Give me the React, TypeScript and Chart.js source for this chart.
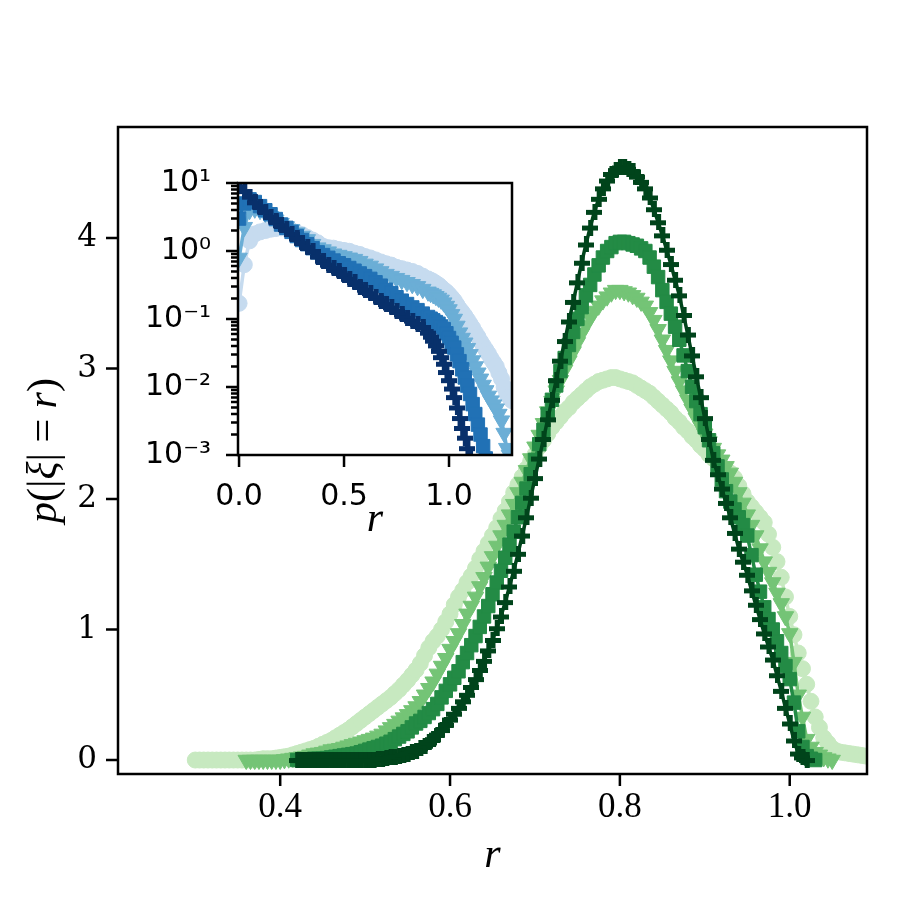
import React, { useEffect, useRef } from "react";
import { Chart, registerables } from "chart.js";

Chart.register(...registerables);

// ---------------- main panel data (r from 0.300 to 1.090, step 0.005) ----------------
const rValues = [
  0.300, 0.305, 0.310, 0.315, 0.320, 0.325, 0.330, 0.335, 0.340, 0.345,
  0.350, 0.355, 0.360, 0.365, 0.370, 0.375, 0.380, 0.385, 0.390, 0.395,
  0.400, 0.405, 0.410, 0.415, 0.420, 0.425, 0.430, 0.435, 0.440, 0.445,
  0.450, 0.455, 0.460, 0.465, 0.470, 0.475, 0.480, 0.485, 0.490, 0.495,
  0.500, 0.505, 0.510, 0.515, 0.520, 0.525, 0.530, 0.535, 0.540, 0.545,
  0.550, 0.555, 0.560, 0.565, 0.570, 0.575, 0.580, 0.585, 0.590, 0.595,
  0.600, 0.605, 0.610, 0.615, 0.620, 0.625, 0.630, 0.635, 0.640, 0.645,
  0.650, 0.655, 0.660, 0.665, 0.670, 0.675, 0.680, 0.685, 0.690, 0.695,
  0.700, 0.705, 0.710, 0.715, 0.720, 0.725, 0.730, 0.735, 0.740, 0.745,
  0.750, 0.755, 0.760, 0.765, 0.770, 0.775, 0.780, 0.785, 0.790, 0.795,
  0.800, 0.805, 0.810, 0.815, 0.820, 0.825, 0.830, 0.835, 0.840, 0.845,
  0.850, 0.855, 0.860, 0.865, 0.870, 0.875, 0.880, 0.885, 0.890, 0.895,
  0.900, 0.905, 0.910, 0.915, 0.920, 0.925, 0.930, 0.935, 0.940, 0.945,
  0.950, 0.955, 0.960, 0.965, 0.970, 0.975, 0.980, 0.985, 0.990, 0.995,
  1.000, 1.005, 1.010, 1.015, 1.020, 1.025, 1.030, 1.035, 1.040, 1.045,
  1.050, 1.055, 1.060, 1.065, 1.070, 1.075, 1.080, 1.085, 1.090,
];

const pCircle = [
  0, 0, 0, 0, 0, 0, 0, 0, 0, 0,
  0, 0, 0, 0, 0, 0.005, 0.01, 0.01, 0.01, 0.015,
  0.02, 0.025, 0.03, 0.04, 0.05, 0.06, 0.07, 0.08, 0.09, 0.105,
  0.12, 0.135, 0.15, 0.17, 0.19, 0.21, 0.23, 0.255, 0.28, 0.305,
  0.33, 0.355, 0.38, 0.405, 0.43, 0.455, 0.48, 0.51, 0.54, 0.575,
  0.61, 0.65, 0.69, 0.74, 0.8, 0.86, 0.91, 0.95, 1.0, 1.06,
  1.12, 1.19, 1.25, 1.3, 1.36, 1.41, 1.47, 1.54, 1.6, 1.66,
  1.72, 1.78, 1.85, 1.91, 1.98, 2.05, 2.11, 2.17, 2.23, 2.29,
  2.34, 2.4, 2.45, 2.5, 2.55, 2.59, 2.63, 2.67, 2.7, 2.74,
  2.77, 2.8, 2.83, 2.86, 2.88, 2.9, 2.91, 2.92, 2.93, 2.93,
  2.92, 2.91, 2.9, 2.89, 2.87, 2.85, 2.83, 2.81, 2.78, 2.75,
  2.72, 2.69, 2.66, 2.62, 2.59, 2.55, 2.52, 2.48, 2.45, 2.41,
  2.38, 2.34, 2.31, 2.28, 2.25, 2.22, 2.2, 2.16, 2.1, 2.04,
  1.98, 1.94, 1.9, 1.86, 1.82, 1.73, 1.63, 1.52, 1.4, 1.25,
  1.1, 0.96, 0.82, 0.7, 0.58, 0.45, 0.33, 0.25, 0.17, 0.13,
  0.09, 0.07, 0.06, 0.055, 0.05, 0.045, 0.04, 0.035, 0.03,
];

const pTriangle = [
  null, null, null, null, null, null, null, null, null, null,
  null, null, 0, 0, 0, 0, 0, 0, 0, 0,
  0, 0.005, 0.01, 0.015, 0.02, 0.025, 0.03, 0.04, 0.05, 0.055,
  0.06, 0.07, 0.08, 0.085, 0.09, 0.1, 0.11, 0.12, 0.13, 0.14,
  0.15, 0.16, 0.17, 0.185, 0.2, 0.225, 0.25, 0.275, 0.3, 0.325,
  0.35, 0.38, 0.41, 0.45, 0.5, 0.55, 0.6, 0.66, 0.72, 0.78,
  0.85, 0.91, 0.97, 1.04, 1.12, 1.18, 1.25, 1.33, 1.4, 1.48,
  1.56, 1.64, 1.72, 1.8, 1.88, 1.96, 2.05, 2.13, 2.22, 2.31,
  2.4, 2.49, 2.58, 2.67, 2.75, 2.83, 2.91, 2.99, 3.06, 3.13,
  3.2, 3.27, 3.33, 3.39, 3.44, 3.48, 3.52, 3.55, 3.58, 3.6,
  3.6, 3.59, 3.58, 3.56, 3.54, 3.51, 3.48, 3.43, 3.37, 3.3,
  3.22, 3.14, 3.06, 2.98, 2.9, 2.83, 2.76, 2.69, 2.62, 2.56,
  2.5, 2.44, 2.39, 2.34, 2.3, 2.25, 2.2, 2.13, 2.05, 1.97,
  1.88, 1.8, 1.72, 1.62, 1.52, 1.44, 1.36, 1.28, 1.2, 1.1,
  0.97, 0.75, 0.5, 0.33, 0.16, 0.1, 0.06, 0.04, 0.02, 0.01,
  0, null, null, null, null, null, null, null, null,
];

const pSquare = [
  null, null, null, null, null, null, null, null, null, null,
  null, null, null, null, null, null, null, null, null, null,
  null, null, null, null, 0, 0, 0, 0.005, 0.01, 0.01,
  0.01, 0.015, 0.02, 0.025, 0.03, 0.035, 0.04, 0.045, 0.05, 0.06,
  0.07, 0.08, 0.09, 0.1, 0.11, 0.125, 0.14, 0.16, 0.18, 0.2,
  0.22, 0.25, 0.28, 0.3, 0.33, 0.36, 0.39, 0.43, 0.48, 0.53,
  0.58, 0.63, 0.68, 0.75, 0.82, 0.88, 0.95, 1.02, 1.1, 1.18,
  1.27, 1.36, 1.45, 1.55, 1.65, 1.75, 1.86, 1.97, 2.08, 2.19,
  2.3, 2.42, 2.53, 2.65, 2.76, 2.87, 2.98, 3.08, 3.18, 3.28,
  3.38, 3.47, 3.56, 3.64, 3.72, 3.79, 3.85, 3.9, 3.93, 3.96,
  3.97, 3.97, 3.96, 3.95, 3.94, 3.92, 3.9, 3.85, 3.78, 3.7,
  3.6, 3.51, 3.42, 3.32, 3.22, 3.1, 2.98, 2.86, 2.75, 2.65,
  2.55, 2.45, 2.35, 2.25, 2.15, 2.06, 1.98, 1.92, 1.86, 1.8,
  1.72, 1.57, 1.42, 1.29, 1.17, 1.08, 1.0, 0.91, 0.82, 0.72,
  0.62, 0.44, 0.22, 0.1, 0.03, 0.01, 0, null, null, null,
  null, null, null, null, null, null, null, null, null,
];

const pPlus = [
  null, null, null, null, null, null, null, null, null, null,
  null, null, null, null, null, null, null, null, null, null,
  null, null, null, null, 0, 0, 0, 0, 0, 0,
  0, 0, 0, 0, 0, 0, 0, 0, 0, 0,
  0, 0, 0, 0.005, 0.01, 0.015, 0.02, 0.025, 0.03, 0.04,
  0.05, 0.06, 0.07, 0.09, 0.11, 0.135, 0.16, 0.195, 0.23, 0.27,
  0.31, 0.355, 0.4, 0.45, 0.5, 0.56, 0.62, 0.69, 0.76, 0.84,
  0.92, 1.01, 1.1, 1.21, 1.33, 1.45, 1.58, 1.72, 1.86, 2.01,
  2.16, 2.31, 2.46, 2.61, 2.76, 2.91, 3.06, 3.21, 3.36, 3.51,
  3.66, 3.81, 3.95, 4.08, 4.2, 4.3, 4.38, 4.44, 4.49, 4.52,
  4.54, 4.54, 4.53, 4.51, 4.47, 4.43, 4.38, 4.31, 4.22, 4.12,
  4.02, 3.91, 3.8, 3.68, 3.56, 3.41, 3.26, 3.1, 2.94, 2.78,
  2.62, 2.46, 2.3, 2.19, 2.08, 1.97, 1.86, 1.74, 1.62, 1.52,
  1.42, 1.3, 1.19, 1.08, 0.97, 0.87, 0.77, 0.65, 0.53, 0.4,
  0.28, 0.15, 0.05, 0.02, 0, null, null, null, null, null,
  null, null, null, null, null, null, null, null, null,
];

const xTicks = [0.4, 0.6, 0.8, 1.0];
const xTickLabels = ["0.4", "0.6", "0.8", "1.0"];
const yTicks = [0, 1, 2, 3, 4];
const yTickLabels = ["0", "1", "2", "3", "4"];

// ---------------- inset data (read more finely on the steep tail) ----------------
const insetR = [
  0, 0.025, 0.05, 0.075, 0.1, 0.125, 0.15, 0.175, 0.2, 0.225,
  0.25, 0.275, 0.3, 0.325, 0.35, 0.375, 0.4, 0.425, 0.45, 0.475,
  0.5, 0.525, 0.55, 0.575, 0.6, 0.625, 0.65, 0.675, 0.7, 0.725,
  0.75, 0.775, 0.8, 0.825, 0.85, 0.875,
  0.9, 0.9125, 0.925, 0.9375, 0.95, 0.9625, 0.975, 0.9875, 1.0, 1.0125,
  1.025, 1.0375, 1.05, 1.0625, 1.075, 1.0875, 1.1, 1.1125, 1.125, 1.1375,
  1.15, 1.1625, 1.175, 1.1875, 1.2, 1.2125, 1.225, 1.2375, 1.25, 1.2625,
  1.275, 1.2875, 1.3,
];

const qCircle = [
  0.17, 0.63, 1.41, 1.78, 1.91, 2.0, 2.09, 2.14, 2.19, 2.14,
  2.0, 1.86, 1.74, 1.58, 1.45, 1.32, 1.17, 1.12, 1.1, 1.05,
  1.02, 0.99, 0.93, 0.89, 0.83, 0.79, 0.74, 0.69, 0.65, 0.62,
  0.575, 0.55, 0.525, 0.5, 0.468, 0.427,
  0.389, 0.372, 0.355, 0.335, 0.316, 0.292, 0.269, 0.251, 0.229, 0.207,
  0.186, 0.162, 0.141, 0.126, 0.112, 0.0977, 0.0851, 0.0741, 0.0631, 0.055,
  0.0468, 0.0407, 0.0355, 0.0309, 0.0263, 0.0229, 0.02, 0.0162, 0.0132, 0.01,
  0.0079, 0.0071, 0.0063,
];

const qTriangle = [
  0.79, 2.24, 3.98, 4.17, 3.98, 3.63, 3.24, 2.88, 2.57, 2.29,
  2.09, 1.86, 1.66, 1.48, 1.26, 1.12, 1.05, 0.977, 0.912, 0.871,
  0.832, 0.794, 0.759, 0.708, 0.646, 0.603, 0.55, 0.501, 0.457, 0.427,
  0.398, 0.372, 0.347, 0.324, 0.302, 0.275,
  0.251, 0.24, 0.229, 0.216, 0.204, 0.191, 0.174, 0.155, 0.138, 0.117,
  0.1, 0.079, 0.063, 0.0525, 0.0447, 0.0372, 0.0302, 0.0245, 0.02, 0.0162,
  0.0132, 0.0107, 0.0089, 0.0074, 0.0063, 0.0055, 0.0048, 0.004, 0.0032, 0.0021,
  0.00126, 0.001, 0.00079,
];

const qSquare = [
  3.0, 5.0, 5.75, 5.25, 4.57, 3.98, 3.47, 2.95, 2.45, 2.19,
  1.91, 1.66, 1.45, 1.26, 1.1, 0.955, 0.871, 0.794, 0.724, 0.661,
  0.617, 0.562, 0.513, 0.468, 0.427, 0.389, 0.347, 0.309, 0.269, 0.24,
  0.209, 0.186, 0.166, 0.148, 0.135, 0.12,
  0.107, 0.101, 0.0955, 0.09, 0.0851, 0.0776, 0.0708, 0.0617, 0.0525, 0.0447,
  0.038, 0.0302, 0.024, 0.0182, 0.0138, 0.0105, 0.0079, 0.0056, 0.004, 0.0028,
  0.002, 0.00135, 0.00089, null, null, null, null, null, null, null,
  null, null, null,
];

const qPlus = [
  8.9, 7.6, 6.3, 5.2, 4.5, 3.8, 3.2, 2.8, 2.4, 2.1,
  1.78, 1.55, 1.32, 1.15, 1.0, 0.83, 0.72, 0.63, 0.56, 0.5,
  0.45, 0.39, 0.35, 0.3, 0.27, 0.24, 0.21, 0.186, 0.166, 0.148,
  0.132, 0.117, 0.105, 0.095, 0.085, 0.076,
  0.063, 0.055, 0.048, 0.041, 0.034, 0.0275, 0.022, 0.0166, 0.0126, 0.0095,
  0.0071, 0.005, 0.0035, 0.0025, 0.0018, 0.00126, 0.00089, null, null, null,
  null, null, null, null, null, null, null, null, null, null,
  null, null, null,
];

const insetXTicks = [0, 0.5, 1.0];
const insetXTickLabels = ["0.0", "0.5", "1.0"];
const insetYMajor = [0.001, 0.01, 0.1, 1, 10];
const insetYMajorLabels = ["10\u207B\u00B3", "10\u207B\u00B2", "10\u207B\u00B9", "10\u2070", "10\u00B9"];
const insetYMinorDigits = [2, 3, 4, 5, 6, 7, 8, 9];

const greens = ["#c7e9c0", "#74c476", "#238b45", "#00441b"];
const blues = ["#c6dbef", "#6baed6", "#2171b5", "#08306b"];

// ---------------- helpers ----------------
function pts(xs: number[], ys: (number | null)[]) {
  const out: { x: number; y: number }[] = [];
  xs.forEach((x, i) => {
    const y = ys[i];
    if (y !== null && y !== undefined) out.push({ x, y });
  });
  return out;
}

function plusImage(color: string, size: number) {
  const c = document.createElement("canvas");
  c.width = size;
  c.height = size;
  const g = c.getContext("2d")!;
  g.fillStyle = color;
  const t = Math.round(size / 3);
  const o = Math.round((size - t) / 2);
  g.fillRect(o, 0, t, size);
  g.fillRect(0, o, size, t);
  return c;
}

function ds(xs: number[], ys: (number | null)[], color: string, style: any, radius: number, order: number, rotation = 0) {
  return {
    data: pts(xs, ys),
    borderColor: color,
    backgroundColor: color,
    borderWidth: 3.5,
    pointStyle: style,
    pointRadius: radius,
    pointRotation: rotation,
    pointBorderColor: color,
    pointBackgroundColor: color,
    pointBorderWidth: 1,
    tension: 0,
    order,
    clip: 0,
    fill: false,
  };
}

function zeroPad(s: any) {
  s.paddingTop = 0;
  s.paddingBottom = 0;
  s.paddingLeft = 0;
  s.paddingRight = 0;
}

type Part = { t: string; i: boolean };
type Title = { parts: Part[]; x: number; y: number; rot: boolean; size: number; family: string };
type FrameCfg = {
  fill: boolean;
  spine: number;
  tickW: number;
  major: number;
  minor: number;
  yMajor: number[] | null;
  titles: Title[];
};

function makeFrame(cfg: FrameCfg) {
  return {
    id: "frame",
    beforeDraw(chart: any) {
      if (!cfg.fill) return;
      const { ctx, chartArea: a } = chart;
      ctx.save();
      ctx.fillStyle = "#ffffff";
      ctx.fillRect(a.left, a.top, a.right - a.left, a.bottom - a.top);
      ctx.restore();
    },
    afterDraw(chart: any) {
      const { ctx, chartArea: a } = chart;
      const xs = chart.scales.x;
      const ys = chart.scales.y;
      ctx.save();
      ctx.strokeStyle = "#000";
      ctx.lineCap = "butt";
      ctx.lineWidth = cfg.tickW;
      ctx.beginPath();
      for (const t of xs.ticks) {
        const p = xs.getPixelForValue(t.value);
        ctx.moveTo(p, a.bottom);
        ctx.lineTo(p, a.bottom + cfg.major);
      }
      for (const t of ys.ticks) {
        const p = ys.getPixelForValue(t.value);
        const isMajor = cfg.yMajor ? cfg.yMajor.some((m) => Math.abs(m - t.value) / m < 1e-6) : true;
        const len = isMajor ? cfg.major : cfg.minor;
        ctx.moveTo(a.left, p);
        ctx.lineTo(a.left - len, p);
      }
      ctx.stroke();
      ctx.lineWidth = cfg.spine;
      ctx.strokeRect(a.left, a.top, a.right - a.left, a.bottom - a.top);

      for (const ti of cfg.titles) {
        ctx.save();
        ctx.translate(ti.x, ti.y);
        if (ti.rot) ctx.rotate(-Math.PI / 2);
        ctx.textBaseline = "alphabetic";
        ctx.textAlign = "left";
        ctx.fillStyle = "#000";
        const fonts = ti.parts.map((p) => `${p.i ? "italic " : ""}${ti.size}px ${ti.family}`);
        let w = 0;
        const ws = ti.parts.map((p, k) => {
          ctx.font = fonts[k];
          const m = ctx.measureText(p.t).width;
          w += m;
          return m;
        });
        let x = -w / 2;
        ti.parts.forEach((p, k) => {
          ctx.font = fonts[k];
          ctx.fillText(p.t, x, 0);
          x += ws[k];
        });
        ctx.restore();
      }
      ctx.restore();
    },
  };
}

const MAIN_W = 913;
const MAIN_H = 913;
const INSET_LEFT = 120;
const INSET_TOP = 150;
const INSET_W = 410;
const INSET_H = 400;
const TITLE_FONT = "'Liberation Serif'";

export default function App() {
  const mainRef = useRef<HTMLCanvasElement>(null);
  const insetRef = useRef<HTMLCanvasElement>(null);

  useEffect(() => {
    const plusGreen = plusImage(greens[3], 16);
    const plusBlue = plusImage(blues[3], 16);

    const main = new Chart(mainRef.current!, {
      type: "line",
      data: {
        datasets: [
          ds(rValues, pPlus, greens[3], plusGreen, 8, 0),
          ds(rValues, pSquare, greens[2], "rect", 9.5, 1),
          ds(rValues, pTriangle, greens[1], "triangle", 9.5, 2, 180),
          ds(rValues, pCircle, greens[0], "circle", 8, 3),
        ] as any,
      },
      options: {
        animation: false,
        responsive: false,
        events: [],
        layout: { padding: { left: 0, top: 127, right: 46, bottom: 0 } },
        plugins: { legend: { display: false }, tooltip: { enabled: false } },
        scales: {
          x: {
            type: "linear",
            min: 0.209,
            max: 1.091,
            grid: { display: false, drawTicks: false },
            border: { display: false },
            afterBuildTicks: (s: any) => {
              s.ticks = xTicks.map((v) => ({ value: v }));
            },
            afterFit: (s: any) => {
              s.height = 139;
              zeroPad(s);
            },
            ticks: {
              autoSkip: false,
              maxRotation: 0,
              minRotation: 0,
              padding: 13,
              color: "#000",
              font: { family: "'Liberation Serif'", size: 35 },
              callback: (v: any) => xTickLabels[xTicks.indexOf(Number(v))],
            },
          },
          y: {
            type: "linear",
            min: -0.107,
            max: 4.85,
            grid: { display: false, drawTicks: false },
            border: { display: false },
            afterBuildTicks: (s: any) => {
              s.ticks = yTicks.map((v) => ({ value: v }));
            },
            afterFit: (s: any) => {
              s.width = 118;
              zeroPad(s);
            },
            ticks: {
              autoSkip: false,
              padding: 21,
              color: "#000",
              font: { family: "'DejaVu Serif'", size: 31 },
              callback: (v: any) => yTickLabels[yTicks.indexOf(Number(v))],
            },
          },
        },
      } as any,
      plugins: [
        makeFrame({
          fill: false,
          spine: 2.5,
          tickW: 2.5,
          major: 12,
          minor: 7,
          yMajor: null,
          titles: [
            { parts: [{ t: "r", i: true }], x: 492.5, y: 867, rot: false, size: 42, family: TITLE_FONT },
            {
              parts: [
                { t: "p", i: true },
                { t: "(|", i: false },
                { t: "\u03BE", i: true },
                { t: "| = ", i: false },
                { t: "r", i: true },
                { t: ")", i: false },
              ],
              x: 56,
              y: 450.5,
              rot: true,
              size: 42,
              family: TITLE_FONT,
            },
          ],
        }),
      ],
    });

    const insetTicks: number[] = [];
    insetYMajor.forEach((m, k) => {
      insetTicks.push(m);
      if (k < insetYMajor.length - 1) insetYMinorDigits.forEach((d) => insetTicks.push(d * m));
    });

    const inset = new Chart(insetRef.current!, {
      type: "line",
      data: {
        datasets: [
          ds(insetR, qPlus, blues[3], plusBlue, 8, 0),
          ds(insetR, qSquare, blues[2], "rect", 9.5, 1),
          ds(insetR, qTriangle, blues[1], "triangle", 9.5, 2, 180),
          ds(insetR, qCircle, blues[0], "circle", 8, 3),
        ] as any,
      },
      options: {
        animation: false,
        responsive: false,
        events: [],
        layout: { padding: { left: 0, top: 33, right: 18, bottom: 0 } },
        plugins: { legend: { display: false }, tooltip: { enabled: false } },
        scales: {
          x: {
            type: "linear",
            min: -0.005,
            max: 1.3,
            grid: { display: false, drawTicks: false },
            border: { display: false },
            afterBuildTicks: (s: any) => {
              s.ticks = insetXTicks.map((v) => ({ value: v }));
            },
            afterFit: (s: any) => {
              s.height = 95;
              zeroPad(s);
            },
            ticks: {
              autoSkip: false,
              maxRotation: 0,
              minRotation: 0,
              padding: 24,
              color: "#000",
              font: { family: "'DejaVu Sans'", size: 30 },
              callback: (v: any) => insetXTickLabels[insetXTicks.indexOf(Number(v))],
            },
          },
          y: {
            type: "logarithmic",
            min: 0.001,
            max: 10,
            grid: { display: false, drawTicks: false },
            border: { display: false },
            afterBuildTicks: (s: any) => {
              s.ticks = insetTicks.map((v) => ({ value: v }));
            },
            afterFit: (s: any) => {
              s.width = 118;
              zeroPad(s);
            },
            ticks: {
              autoSkip: false,
              padding: 27,
              color: "#000",
              font: { family: "'DejaVu Sans'", size: 30 },
              callback: (v: any) => {
                const k = insetYMajor.findIndex((m) => Math.abs(m - Number(v)) / m < 1e-6);
                return k >= 0 ? insetYMajorLabels[k] : "";
              },
            },
          },
        },
      } as any,
      plugins: [
        makeFrame({
          fill: true,
          spine: 2.5,
          tickW: 2.5,
          major: 12,
          minor: 7,
          yMajor: insetYMajor,
          titles: [{ parts: [{ t: "r", i: true }], x: 255, y: 381, rot: false, size: 42, family: TITLE_FONT }],
        }),
      ],
    });

    return () => {
      main.destroy();
      inset.destroy();
    };
  }, []);

  return (
    <div style={{ position: "fixed", left: 0, top: 0, width: MAIN_W, height: MAIN_H, background: "#ffffff" }}>
      <canvas
        ref={mainRef}
        width={MAIN_W}
        height={MAIN_H}
        style={{ position: "absolute", left: 0, top: 0, width: MAIN_W, height: MAIN_H }}
      />
      <canvas
        ref={insetRef}
        width={INSET_W}
        height={INSET_H}
        style={{ position: "absolute", left: INSET_LEFT, top: INSET_TOP, width: INSET_W, height: INSET_H }}
      />
    </div>
  );
}
